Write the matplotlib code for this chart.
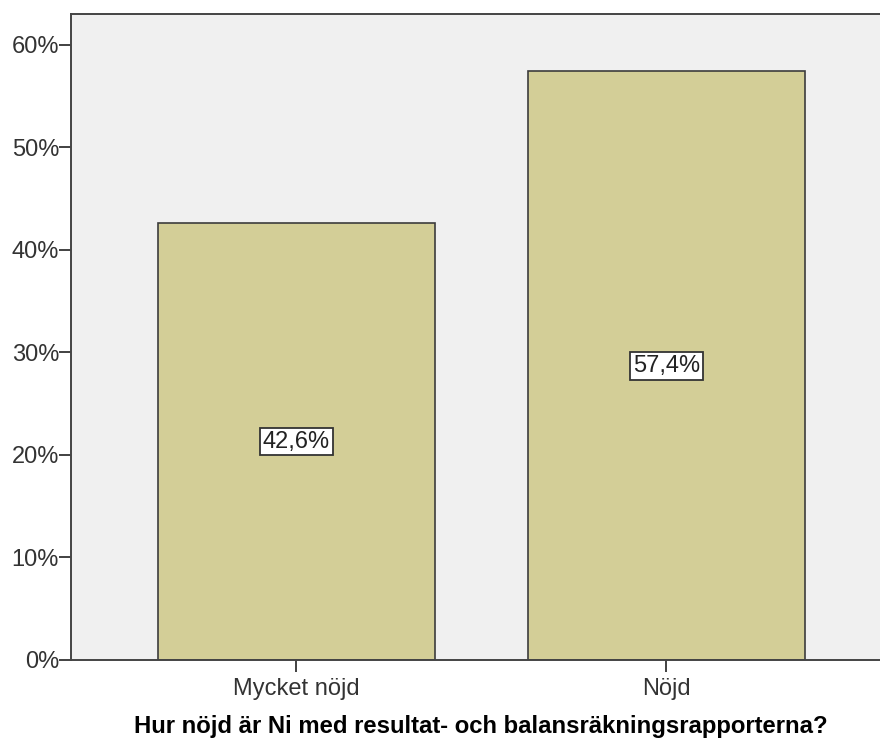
import matplotlib
matplotlib.use("Agg")
import matplotlib.pyplot as plt
from matplotlib.ticker import FuncFormatter

plt.rcParams['font.family'] = ['Liberation Sans', 'DejaVu Sans']

categories = ['Mycket nöjd', 'Nöjd']
percent = [42.6, 57.4]
yticks = [0, 10, 20, 30, 40, 50, 60]

fig = plt.figure(figsize=(8.8, 7.42), dpi=100)
ax = fig.add_axes([71 / 880, 1 - 660 / 742, 1 - 71 / 880, (660 - 14) / 742])
ax.set_facecolor('#f0f0f0')

x = list(range(len(categories)))
ax.bar(x, percent, width=0.75, color='#d3ce97', edgecolor='#3c3c3c', linewidth=1.2, zorder=2)

for xi, val in zip(x, percent):
    ax.text(xi, val / 2, ('%.1f%%' % val).replace('.', ','), ha='center', va='center',
            fontsize=17, color='#222222', zorder=3,
            bbox=dict(boxstyle='square,pad=0.12', facecolor='white', edgecolor='#333333', linewidth=1.3))

ax.set_xlim(-0.609, 1.577)
ax.set_ylim(0, 63.0)
ax.set_xticks(x)
ax.set_xticklabels(categories, fontsize=17, color='#333333')
ax.set_yticks(yticks)
ax.yaxis.set_major_formatter(FuncFormatter(lambda v, p: '%d%%' % v))
ax.tick_params(axis='y', labelsize=17, labelcolor='#333333', length=8.6, width=1.3, color='#333333', pad=0)
ax.tick_params(axis='x', length=8.6, width=1.3, color='#333333', pad=4)

ax.set_xlabel('Hur nöjd är Ni med resultat- och balansräkningsrapporterna?',
              fontsize=17.2, fontweight='bold', labelpad=13, color='black')
ax.xaxis.set_label_coords(0.506, -0.085)

for side in ['left', 'bottom', 'top']:
    ax.spines[side].set_color('#444444')
    ax.spines[side].set_linewidth(1.4)
ax.spines['right'].set_visible(False)

fig.savefig('out.png', dpi=100)
